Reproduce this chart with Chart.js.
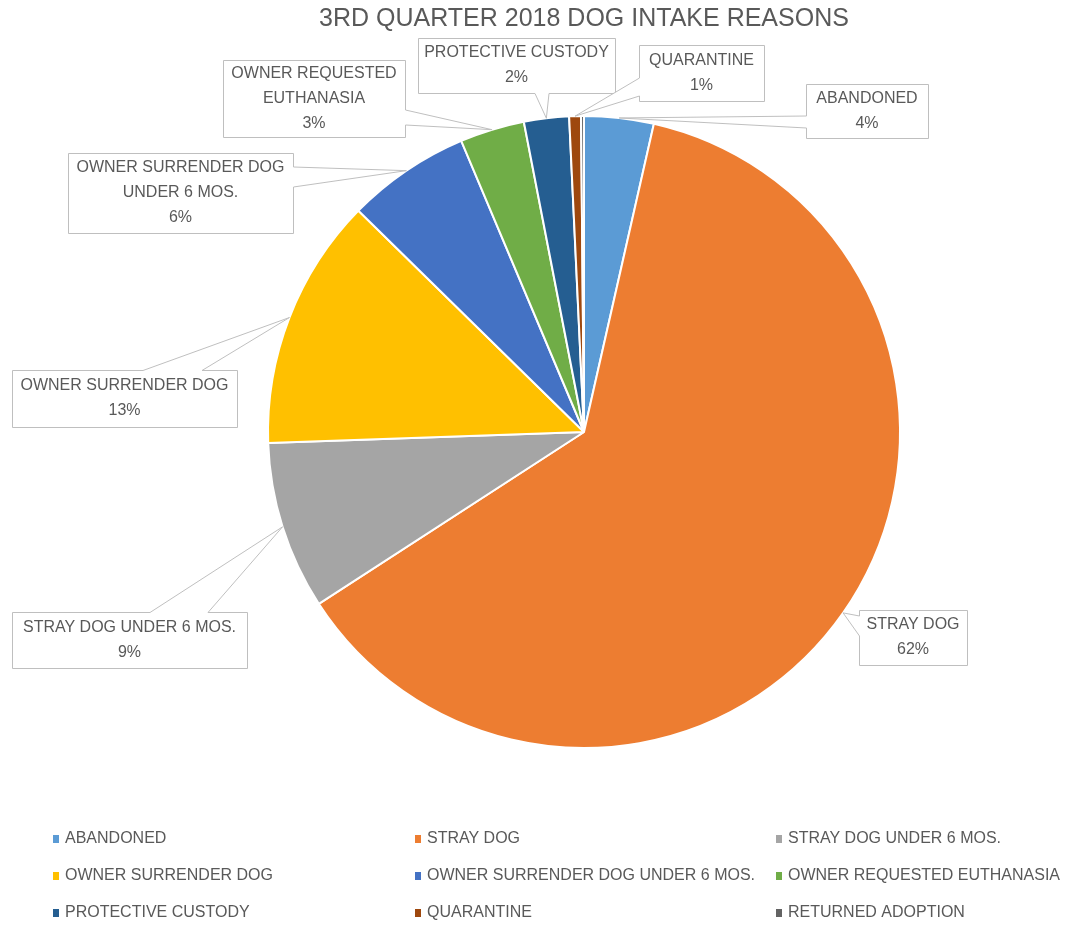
<!DOCTYPE html>
<html>
<head>
<meta charset="utf-8">
<title>3rd Quarter 2018 Dog Intake Reasons</title>
<script src="https://cdn.jsdelivr.net/npm/chart.js@4"></script>
<style>
  html, body { margin: 0; padding: 0; background: #fff; }
  #wrap { width: 1068px; height: 926px; position: relative; }
</style>
</head>
<body>
<div id="wrap"><canvas id="myChart"></canvas></div>
<script>
// categories, in the order of the pie (clockwise from the top)
var categories = [
    'ABANDONED',
    'STRAY DOG',
    'STRAY DOG UNDER 6 MOS.',
    'OWNER SURRENDER DOG',
    'OWNER SURRENDER DOG UNDER 6 MOS.',
    'OWNER REQUESTED EUTHANASIA',
    'PROTECTIVE CUSTODY',
    'QUARANTINE',
    'RETURNED ADOPTION'
];
// share of intakes (%)
var shares = [3.55, 62.3, 8.6, 12.9, 6.3, 3.3, 2.3, 0.6, 0.15];
var colors = ['#5B9BD5', '#ED7D31', '#A5A5A5', '#FFC000', '#4472C4', '#70AD47', '#255E91', '#9E480E', '#636363'];

var textColor = '#595959';
var fontFamily = "'Liberation Sans', Arial, sans-serif";

// callout boxes: where each label sits and which side the pointer leaves from
var callouts = [
    { i: 0, lines: ['ABANDONED'], box: [806, 84, 122, 54], side: 'left', base: [116, 128] },
    { i: 1, lines: ['STRAY DOG'], box: [859, 610, 108, 55], side: 'left', base: [616, 636] },
    { i: 2, lines: ['STRAY DOG UNDER 6 MOS.'], box: [12, 612, 235, 56], side: 'top', base: [150, 208] },
    { i: 3, lines: ['OWNER SURRENDER DOG'], box: [12, 370, 225, 57], side: 'top', base: [143, 202] },
    { i: 4, lines: ['OWNER SURRENDER DOG', 'UNDER 6 MOS.'], box: [68, 153, 225, 80], side: 'right', base: [167, 187] },
    { i: 5, lines: ['OWNER REQUESTED', 'EUTHANASIA'], box: [223, 60, 182, 77], side: 'right', base: [110, 125] },
    { i: 6, lines: ['PROTECTIVE CUSTODY'], box: [418, 38, 197, 55], side: 'bottom', base: [535, 549] },
    { i: 7, lines: ['QUARANTINE'], box: [639, 45, 125, 56], side: 'left', base: [78, 96] }
];

// legend grid
var legendCols = [53, 415, 776];
var legendRows = [839, 876, 913];

function calloutPath(ctx, b, side, base, tip) {
    var x = b[0] + 0.5, y = b[1] + 0.5, r = b[0] + b[2] + 0.5, btm = b[1] + b[3] + 0.5;
    ctx.beginPath();
    ctx.moveTo(x, y);
    if (side === 'top') { ctx.lineTo(base[0], y); ctx.lineTo(tip.x, tip.y); ctx.lineTo(base[1], y); }
    ctx.lineTo(r, y);
    if (side === 'right') { ctx.lineTo(r, base[0]); ctx.lineTo(tip.x, tip.y); ctx.lineTo(r, base[1]); }
    ctx.lineTo(r, btm);
    if (side === 'bottom') { ctx.lineTo(base[1], btm); ctx.lineTo(tip.x, tip.y); ctx.lineTo(base[0], btm); }
    ctx.lineTo(x, btm);
    if (side === 'left') { ctx.lineTo(x, base[1]); ctx.lineTo(tip.x, tip.y); ctx.lineTo(x, base[0]); }
    ctx.closePath();
}

var calloutPlugin = {
    id: 'callouts',
    afterDatasetsDraw: function (chart) {
        var ctx = chart.ctx;
        var meta = chart.getDatasetMeta(0);
        var data = chart.data.datasets[0].data;
        var total = data.reduce(function (a, b) { return a + b; }, 0);
        ctx.save();
        callouts.forEach(function (c) {
            var arc = meta.data[c.i];
            var p = arc.getProps(['x', 'y', 'startAngle', 'endAngle', 'outerRadius'], true);
            var mid = (p.startAngle + p.endAngle) / 2;
            var tip = { x: p.x + Math.cos(mid) * p.outerRadius, y: p.y + Math.sin(mid) * p.outerRadius };
            calloutPath(ctx, c.box, c.side, c.base, tip);
            ctx.fillStyle = '#fff';
            ctx.fill();
            ctx.strokeStyle = '#BFBFBF';
            ctx.lineWidth = 1;
            ctx.stroke();

            var lines = c.lines.concat([Math.round(data[c.i] / total * 100) + '%']);
            var lh = 25;
            var cx = c.box[0] + c.box[2] / 2;
            var cy = c.box[1] + c.box[3] / 2 - (lines.length - 1) * lh / 2;
            ctx.fillStyle = textColor;
            ctx.font = '16px ' + fontFamily;
            ctx.textAlign = 'center';
            ctx.textBaseline = 'middle';
            lines.forEach(function (t, k) { ctx.fillText(t, cx, cy + k * lh); });
        });

        // legend, three columns
        ctx.textAlign = 'left';
        ctx.textBaseline = 'middle';
        ctx.font = '16px ' + fontFamily;
        categories.forEach(function (name, k) {
            var lx = legendCols[k % 3], ly = legendRows[Math.floor(k / 3)];
            ctx.fillStyle = colors[k];
            ctx.fillRect(lx, ly - 4, 6, 8);
            ctx.fillStyle = textColor;
            ctx.fillText(name, lx + 12, ly);
        });
        ctx.restore();
    }
};

var ctx = document.getElementById('myChart').getContext('2d');
var myChart = new Chart(ctx, {
    type: 'pie',
    data: {
        labels: categories,
        datasets: [{
            data: shares,
            backgroundColor: colors,
            borderColor: '#fff',
            borderWidth: 2
        }]
    },
    options: {
        responsive: true,
        maintainAspectRatio: false,
        animation: false,
        layout: {
            padding: { top: 0, left: 267, right: 167, bottom: 177 }
        },
        plugins: {
            legend: { display: false },
            tooltip: { enabled: false },
            title: {
                display: true,
                text: '3RD QUARTER 2018 DOG INTAKE REASONS',
                color: textColor,
                font: { family: fontFamily, size: 25, weight: 'normal', lineHeight: 1.2 },
                padding: { top: 4, bottom: 81 }
            }
        }
    },
    plugins: [calloutPlugin]
});
</script>
</body>
</html>
